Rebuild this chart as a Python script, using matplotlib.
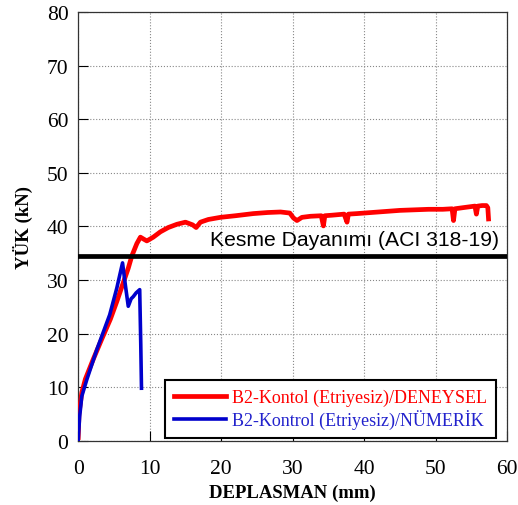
import matplotlib.pyplot as plt
import numpy as np

# experimental curve (DENEYSEL)
exp_x = [0.0, 0.1, 0.5, 1.0, 2.1, 3.3, 4.5, 5.4, 6.3, 7.0, 7.5, 8.2, 8.7, 9.2, 9.6,
         10.5, 11.5, 12.6, 13.8, 15.0, 16.0, 16.5, 17.1, 18.2, 19.9, 22.0, 24.5,
         26.5, 28.3, 29.6, 30.1, 30.6, 31.3, 32.5, 34.0, 34.3, 34.5, 35.5, 37.2,
         37.6, 37.8, 39.0, 41.0, 43.0, 45.0, 47.0, 49.0, 51.0, 52.3, 52.5, 52.7,
         53.8, 55.5, 55.7, 55.9, 56.5, 57.1, 57.3, 57.4]
exp_y = [0.6, 5.0, 9.0, 11.5, 15.2, 19.0, 22.7, 26.0, 29.5, 32.2, 34.5, 36.8, 38.0,
         37.6, 37.3, 38.0, 39.0, 39.8, 40.4, 40.8, 40.3, 39.8, 40.8, 41.3, 41.7,
         42.0, 42.4, 42.6, 42.7, 42.5, 41.6, 41.1, 41.7, 41.9, 42.0, 40.1, 42.0,
         42.1, 42.3, 40.8, 42.3, 42.4, 42.6, 42.8, 43.0, 43.1, 43.2, 43.2, 43.3,
         41.1, 43.3, 43.5, 43.8, 42.3, 43.8, 43.9, 43.9, 43.5, 41.4]

# numerical curve (NÜMERİK)
num_x = [0.0, 0.2, 0.5, 1.2, 2.6, 4.4, 5.4, 6.2, 6.6, 7.0, 7.4, 7.7, 8.1, 8.6,
         8.75, 8.85]
num_y = [0.2, 4.5, 8.3, 11.4, 17.0, 23.5, 28.5, 33.2, 29.0, 25.1, 26.5, 26.9,
         27.6, 28.2, 18.0, 9.8]

shear_capacity = 34.5
shear_label = "Kesme Dayanımı (ACI 318-19)"

fig = plt.figure(figsize=(5.18, 5.06), dpi=100)
ax = fig.add_axes([0.151, 0.127, 0.828, 0.847])

ax.plot(exp_x, exp_y, color="#ff0000", lw=3.4, solid_joinstyle="round",
        label="B2-Kontol (Etriyesiz)/DENEYSEL", zorder=3)
ax.plot(num_x, num_y, color="#0000cc", lw=2.6, solid_joinstyle="round",
        label="B2-Kontrol (Etriyesiz)/NÜMERİK", zorder=4)
ax.axhline(shear_capacity, color="black", lw=3.4, zorder=5)
ax.text(18.4, 37.5, shear_label, family="Liberation Sans", fontsize=15.2,
        va="center", ha="left", zorder=6)

ax.set_xlim(0, 60)
ax.set_ylim(0, 80)
ax.set_xticks(np.arange(0, 61, 10))
ax.set_yticks(np.arange(0, 81, 10))
ax.grid(True, color="#888888", linestyle=":", linewidth=0.8)
ax.tick_params(direction="in", length=7, width=0.8, labelsize=15.5)
ax.tick_params(axis="x", pad=13)
ax.tick_params(axis="y", pad=7)
for lbl in ax.get_xticklabels() + ax.get_yticklabels():
    lbl.set_family("Liberation Serif")
for sp in ax.spines.values():
    sp.set_linewidth(0.9)
    sp.set_color("#333333")

ax.set_xlabel("DEPLASMAN (mm)", family="Liberation Serif", fontweight="bold",
              fontsize=13.5, labelpad=4)
ax.set_ylabel("YÜK (kN)", family="Liberation Serif", fontweight="bold",
              fontsize=13.5, labelpad=10)

leg = ax.legend(loc="lower right", bbox_to_anchor=(0.973, 0.006), borderaxespad=0,
                fancybox=False, framealpha=1, edgecolor="black", handlelength=2.9,
                prop={"family": "Liberation Serif", "size": 13}, borderpad=0.5,
                labelspacing=0.15, handletextpad=0.3)
leg.get_frame().set_linewidth(1.5)
for txt, col in zip(leg.get_texts(), ["#ff0000", "#2222cc"]):
    txt.set_color(col)
leg.set_zorder(10)

fig.savefig("out.png", dpi=100)
